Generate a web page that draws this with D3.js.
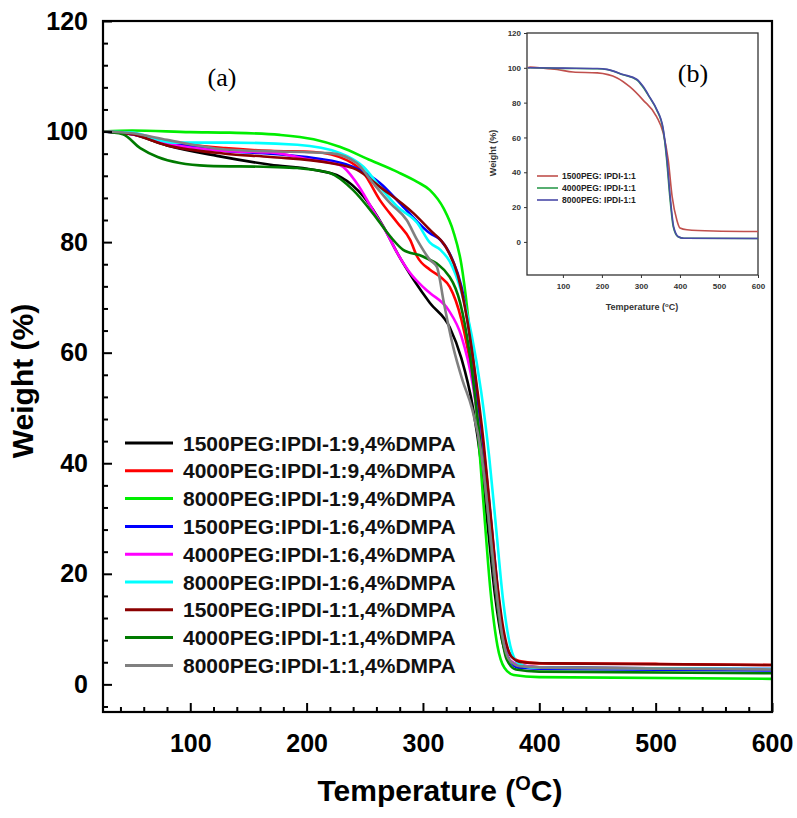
<!DOCTYPE html>
<html>
<head>
<meta charset="utf-8">
<script src="https://cdn.jsdelivr.net/npm/d3@7"></script>
<style>
  html, body { margin: 0; padding: 0; background: #fff; }
  svg { display: block; }
</style>
</head>
<body>
<svg id="chart" width="797" height="818"></svg>
<script>
// ---------------- DATA (main panel a) ----------------
const seriesNames = [
  "1500PEG:IPDI-1:9,4%DMPA",
  "4000PEG:IPDI-1:9,4%DMPA",
  "8000PEG:IPDI-1:9,4%DMPA",
  "1500PEG:IPDI-1:6,4%DMPA",
  "4000PEG:IPDI-1:6,4%DMPA",
  "8000PEG:IPDI-1:6,4%DMPA",
  "1500PEG:IPDI-1:1,4%DMPA",
  "4000PEG:IPDI-1:1,4%DMPA",
  "8000PEG:IPDI-1:1,4%DMPA"
];
const seriesColors = ["#000000", "#ff0000", "#00ee00", "#0000ff", "#ff00ff", "#00ffff", "#8b0000", "#007a00", "#808080"];

// [temperature °C, weight %]
const curveBlack = [[25,100],[50,99.5],[80,97.5],[123,95.6],[169,94],[206,93.1],[229,91.8],[249,88.2],[266,82.8],[278,78],[292,73.2],[306,69],[323,64.6],[333,59],[343,50],[350,40],[356,28],[362,16],[368,8],[374,4.5],[382,3.5],[400,3.1],[450,3],[600,2.7]];
const curveRed = [[25,100],[50,99.6],[80,98.2],[130,97],[169,96.5],[206,96.3],[235,94.8],[249,92.5],[263,87.6],[278,83.5],[289,80.4],[295,77.4],[306,75],[315,73.7],[323,71.9],[333,66],[343,55],[350,44],[356,32],[362,19],[368,10],[375,5.5],[383,4.2],[400,3.8],[500,3.7],[600,3.5]];
const curveGreen = [[25,100],[50,100.2],[100,99.9],[134,99.8],[177,99.4],[206,98.6],[229,97.2],[255,94.8],[278,92.7],[295,90.9],[306,89.4],[318,86],[326,82],[333,76],[338,68],[343,57],[348,44],[353,30],[358,17],[364,7],[370,3],[378,1.7],[400,1.3],[600,1]];
const curveBlue = [[25,100],[50,99.5],[80,98],[130,96.5],[169,96],[206,95.2],[240,93.6],[263,90.7],[283,86.4],[306,81.6],[315,80.4],[325,77],[333,72],[341,62],[348,50],[355,37],[361,24],[367,12],[373,5],[382,3],[410,2.8],[600,2.5]];
const curveMagenta = [[25,100],[50,99.5],[80,97.8],[130,96.5],[169,96.2],[206,94.8],[229,93.9],[243,90.7],[257,85.8],[269,81.6],[278,78],[289,74.4],[300,71.9],[306,70.8],[322,67.7],[333,63],[343,54],[350,43],[356,31],[362,18],[368,9],[374,4.5],[383,3.5],[410,3],[600,2.8]];
const curveCyan = [[25,100],[50,99.8],[85,98],[134,98],[192,97.6],[229,96.1],[249,93.6],[263,90],[278,86.4],[295,83.5],[306,79.9],[315,78.6],[323,76.5],[333,71],[342,63],[350,53],[357,41],[363,28],[369,15],[375,7],[382,3.8],[395,3],[600,2.8]];
const curveDarkRed = [[25,100],[50,99.5],[80,97.5],[130,96],[169,95.4],[220,94.3],[243,93.1],[263,90],[292,85.2],[306,82.2],[320,79],[330,74],[338,66],[345,56],[352,44],[358,31],[364,18],[370,9],[376,5],[385,4],[410,3.8],[600,3.5]];
const curveDarkGreen = [[25,100],[42,99.5],[57,97],[72,95.4],[91,94.3],[115,93.8],[169,93.6],[192,93.4],[220,92.5],[240,89.4],[257,85.2],[272,81],[283,78.6],[300,77.4],[323,73.7],[332,69],[340,60],[347,48],[354,35],[360,22],[366,11],[372,4.5],[380,2.7],[400,2.3],[600,2]];
const curveGray = [[25,100],[50,99.7],[80,98.5],[134,96.7],[220,96.1],[243,94.3],[257,90.7],[272,87],[286,84],[295,80.4],[306,76.8],[312,75.5],[318,69],[326,61],[334,55],[342,50],[350,42],[356,31],[362,19],[368,9],[374,4.5],[383,3.3],[410,3],[600,2.7]];
const mainCurves = [curveBlack, curveRed, curveGreen, curveBlue, curveMagenta, curveCyan, curveDarkRed, curveDarkGreen, curveGray];

const mainYTicks = [0, 20, 40, 60, 80, 100, 120];
const mainXTicks = [100, 200, 300, 400, 500, 600];

// ---------------- DATA (inset panel b) ----------------
const insetNames = ["1500PEG: IPDI-1:1", "4000PEG: IPDI-1:1", "8000PEG: IPDI-1:1"];
const insetColors = ["#c0504d", "#2e9a4e", "#4a4aa8"];
const inset1500 = [[10,100],[16,100.4],[50,99.8],[85,99],[126,97.6],[188,97.1],[239,94.2],[272,89],[305,81.6],[340,72],[357,62.6],[370,47],[380,26],[392,12.6],[400,8],[418,7],[485,6.3],[600,6]];
const inset4000 = [[10,100],[16,100],[100,99.7],[188,99.5],[213,99],[254,96],[290,93],[305,89],[323,82.7],[340,76],[357,64.4],[366,47],[374,26],[383,8.6],[395,3],[410,2.1],[600,2]];
const inset8000 = [[10,100],[16,100],[100,99.8],[188,99.6],[213,99.1],[254,96.2],[290,93.3],[305,89.5],[323,83],[340,76.3],[357,65],[367,47],[375,26],[384,8.6],[396,3],[410,2.1],[600,2]];
const insetCurves = [inset1500, inset4000, inset8000];
const insetYTicks = [0, 20, 40, 60, 80, 100, 120];
const insetXTicks = [100, 200, 300, 400, 500, 600];

// ---------------- DRAW ----------------
const svg = d3.select("#chart");
const x = d3.scaleLinear().domain([25, 600]).range([103, 772]);
const y = d3.scaleLinear().domain([-5, 120]).range([712, 21]);

const line = d3.line().x(d => x(d[0])).y(d => y(d[1])).curve(d3.curveMonotoneX);

// curves
const gCurves = svg.append("g");
mainCurves.forEach((c, i) => {
  gCurves.append("path")
    .attr("d", line(c))
    .attr("fill", "none")
    .attr("stroke", seriesColors[i])
    .attr("stroke-width", 2.6)
    .attr("stroke-linejoin", "round");
});

// axes (ticks inward)
const yMinor = d3.range(-4, 121, 4).filter(v => v % 20 !== 0);
const xMinor = d3.range(40, 600, 20).filter(v => v % 100 !== 0);

const yAxis = d3.axisLeft(y).tickValues(mainYTicks).tickSizeInner(-9).tickSizeOuter(0).tickPadding(14);
const gy = svg.append("g").attr("transform", "translate(103,0)").call(yAxis);
gy.select(".domain").remove();
gy.selectAll(".tick line").attr("stroke", "#000").attr("stroke-width", 2);
gy.selectAll(".tick text").attr("font-family", "Liberation Sans, Arial, sans-serif").attr("font-weight", "bold").attr("font-size", 25).attr("fill", "#000").attr("x", -15);
svg.append("g").attr("transform", "translate(103,0)")
  .call(d3.axisLeft(y).tickValues(yMinor).tickSizeInner(-5).tickSizeOuter(0).tickFormat(""))
  .call(g => g.select(".domain").remove())
  .selectAll(".tick line").attr("stroke", "#000").attr("stroke-width", 2);

const xAxis = d3.axisBottom(x).tickValues(mainXTicks).tickSizeInner(-9).tickSizeOuter(0).tickPadding(22);
const gx = svg.append("g").attr("transform", "translate(0,712)").call(xAxis);
gx.select(".domain").remove();
gx.selectAll(".tick line").attr("stroke", "#000").attr("stroke-width", 2);
gx.selectAll(".tick text").attr("font-family", "Liberation Sans, Arial, sans-serif").attr("font-weight", "bold").attr("font-size", 25).attr("fill", "#000");
svg.append("g").attr("transform", "translate(0,712)")
  .call(d3.axisBottom(x).tickValues(xMinor).tickSizeInner(-5).tickSizeOuter(0).tickFormat(""))
  .call(g => g.select(".domain").remove())
  .selectAll(".tick line").attr("stroke", "#000").attr("stroke-width", 2);

// frame
svg.append("rect").attr("x", 103).attr("y", 21).attr("width", 669).attr("height", 691)
  .attr("fill", "none").attr("stroke", "#000").attr("stroke-width", 2.2);

// axis titles
svg.append("text").attr("transform", "translate(33,381) rotate(-90)")
  .attr("text-anchor", "middle").attr("font-family", "Liberation Sans, Arial, sans-serif")
  .attr("font-weight", "bold").attr("font-size", 30).text("Weight (%)");
const xt = svg.append("text").attr("x", 440).attr("y", 801)
  .attr("text-anchor", "middle").attr("font-family", "Liberation Sans, Arial, sans-serif")
  .attr("font-weight", "bold").attr("font-size", 30);
xt.append("tspan").text("Temperature (");
xt.append("tspan").attr("font-size", 20).attr("dy", -11).text("O");
xt.append("tspan").attr("dy", 11).text("C)");

// panel label
svg.append("text").attr("x", 222).attr("y", 86).attr("text-anchor", "middle")
  .attr("font-family", "Liberation Serif, Times New Roman, serif").attr("font-size", 26).text("(a)");

// legend
const lg = svg.append("g");
seriesNames.forEach((n, i) => {
  const yy = 443 + i * 27.8;
  lg.append("line").attr("x1", 125).attr("x2", 173).attr("y1", yy).attr("y2", yy)
    .attr("stroke", seriesColors[i]).attr("stroke-width", 3);
  lg.append("text").attr("x", 183).attr("y", yy + 7.5)
    .attr("font-family", "Liberation Sans, Arial, sans-serif").attr("font-weight", "bold")
    .attr("font-size", 21).attr("fill", "#111").text(n);
});

// ---------------- INSET ----------------
const xi = d3.scaleLinear().domain([8, 600]).range([527, 758]);
const yi = d3.scaleLinear().domain([-19, 120]).range([275, 33]);
const linei = d3.line().x(d => xi(d[0])).y(d => yi(d[1])).curve(d3.curveMonotoneX);
const gi = svg.append("g");
gi.append("rect").attr("x", 527).attr("y", 33).attr("width", 231).attr("height", 242)
  .attr("fill", "#fff").attr("stroke", "#333").attr("stroke-width", 1.3);
insetCurves.forEach((c, i) => {
  gi.append("path").attr("d", linei(c)).attr("fill", "none")
    .attr("stroke", insetColors[i]).attr("stroke-width", 1.6);
});
const giy = gi.append("g").attr("transform", "translate(527,0)")
  .call(d3.axisLeft(yi).tickValues(insetYTicks).tickSizeInner(3).tickSizeOuter(0).tickPadding(3));
giy.select(".domain").remove();
giy.selectAll(".tick line").attr("stroke", "#333");
giy.selectAll(".tick text").attr("font-family", "Liberation Sans, Arial, sans-serif").attr("font-weight", "bold").attr("font-size", 8).attr("fill", "#333");
const gix = gi.append("g").attr("transform", "translate(0,275)")
  .call(d3.axisBottom(xi).tickValues(insetXTicks).tickSizeInner(3).tickSizeOuter(0).tickPadding(5));
gix.select(".domain").remove();
gix.selectAll(".tick line").attr("stroke", "#333");
gix.selectAll(".tick text").attr("font-family", "Liberation Sans, Arial, sans-serif").attr("font-weight", "bold").attr("font-size", 8).attr("fill", "#333");

gi.append("text").attr("transform", "translate(496,153) rotate(-90)").attr("text-anchor", "middle")
  .attr("font-family", "Liberation Sans, Arial, sans-serif").attr("font-weight", "bold")
  .attr("font-size", 9).attr("fill", "#333").text("Weight (%)");
const ixt = gi.append("text").attr("x", 642).attr("y", 310).attr("text-anchor", "middle")
  .attr("font-family", "Liberation Sans, Arial, sans-serif").attr("font-weight", "bold")
  .attr("font-size", 9).attr("fill", "#333");
ixt.append("tspan").text("Temperature (");
ixt.append("tspan").attr("font-size", 6).attr("dy", -3).text("o");
ixt.append("tspan").attr("dy", 3).text("C)");

gi.append("text").attr("x", 693).attr("y", 82).attr("text-anchor", "middle")
  .attr("font-family", "Liberation Serif, Times New Roman, serif").attr("font-size", 26).text("(b)");

insetNames.forEach((n, i) => {
  const yy = 176 + i * 12;
  gi.append("line").attr("x1", 537).attr("x2", 558).attr("y1", yy).attr("y2", yy)
    .attr("stroke", insetColors[i]).attr("stroke-width", 1.6);
  gi.append("text").attr("x", 562).attr("y", yy + 3)
    .attr("font-family", "Liberation Sans, Arial, sans-serif").attr("font-weight", "bold")
    .attr("font-size", 8.5).attr("fill", "#222").text(n);
});
</script>
</body>
</html>
